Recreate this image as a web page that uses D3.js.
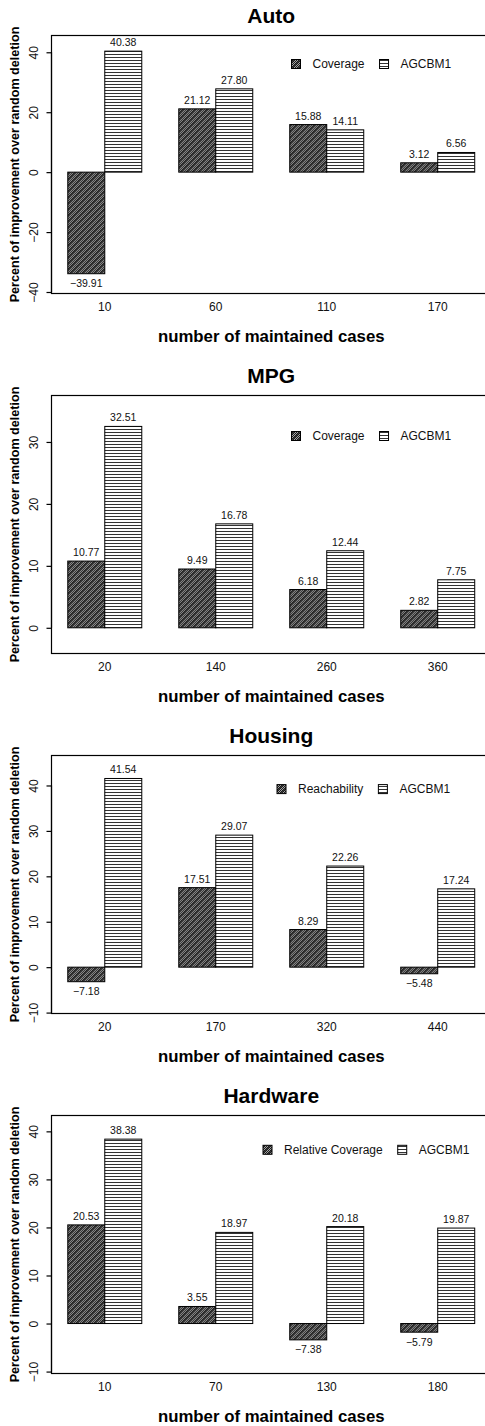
<!DOCTYPE html>
<html>
<head>
<meta charset="utf-8">
<script src="https://cdn.jsdelivr.net/npm/d3@7"></script>
<style>
  body { margin: 0; background: #fff; }
  svg { display: block; font-family: "Liberation Sans", Arial, sans-serif; }
</style>
</head>
<body>
<svg id="chart"></svg>
<script>
// data
const seriesNames = ["Coverage", "AGCBM1"];

const autoCases = ["10", "60", "110", "170"];
const autoCoverage = [-33.9, 21.12, 15.88, 3.12]; // bar heights as drawn
const autoCoverageLabels = ["\u221239.91", "21.12", "15.88", "3.12"];
const autoAgcbm = [40.38, 27.8, 14.11, 6.56];
const autoAgcbmLabels = ["40.38", "27.80", "14.11", "6.56"];

const mpgCases = ["20", "140", "260", "360"];
const mpgCoverage = [10.77, 9.49, 6.18, 2.82];
const mpgCoverageLabels = ["10.77", "9.49", "6.18", "2.82"];
const mpgAgcbm = [32.51, 16.78, 12.44, 7.75];
const mpgAgcbmLabels = ["32.51", "16.78", "12.44", "7.75"];

const housingCases = ["20", "170", "320", "440"];
const housingReach = [-3.2, 17.51, 8.29, -1.45];
const housingReachLabels = ["\u22127.18", "17.51", "8.29", "\u22125.48"];
const housingAgcbm = [41.54, 29.07, 22.26, 17.24];
const housingAgcbmLabels = ["41.54", "29.07", "22.26", "17.24"];

const hardwareCases = ["10", "70", "130", "180"];
const hardwareRel = [20.53, 3.55, -3.4, -1.8];
const hardwareRelLabels = ["20.53", "3.55", "\u22127.38", "\u22125.79"];
const hardwareAgcbm = [38.38, 18.97, 20.18, 19.87];
const hardwareAgcbmLabels = ["38.38", "18.97", "20.18", "19.87"];

const autoTicks = [-40, -20, 0, 20, 40];
const mpgTicks = [0, 10, 20, 30];
const housingTicks = [-10, 0, 10, 20, 30, 40];
const hardwareTicks = [-10, 0, 10, 20, 30, 40];

const panels = [
  { title: "Auto", cases: autoCases, first: autoCoverage, firstLabels: autoCoverageLabels,
    second: autoAgcbm, secondLabels: autoAgcbmLabels, legend: ["Coverage", "AGCBM1"],
    ticks: autoTicks, domain: [-40.5, 45.6], legendX: 291.5, legendY: 28.5 },
  { title: "MPG", cases: mpgCases, first: mpgCoverage, firstLabels: mpgCoverageLabels,
    second: mpgAgcbm, secondLabels: mpgAgcbmLabels, legend: ["Coverage", "AGCBM1"],
    ticks: mpgTicks, domain: [-4.15, 37.5], legendX: 291.5, legendY: 40.5 },
  { title: "Housing", cases: housingCases, first: housingReach, firstLabels: housingReachLabels,
    second: housingAgcbm, secondLabels: housingAgcbmLabels, legend: ["Reachability", "AGCBM1"],
    ticks: housingTicks, domain: [-10.2, 46.6], legendX: 277, legendY: 33.6 },
  { title: "Hardware", cases: hardwareCases, first: hardwareRel, firstLabels: hardwareRelLabels,
    second: hardwareAgcbm, secondLabels: hardwareAgcbmLabels, legend: ["Relative Coverage", "AGCBM1"],
    ticks: hardwareTicks, domain: [-10.4, 43.3], legendX: 263, legendY: 34.3 }
];

const width = 485, height = 1426;
const panelH = 360;
const box = { left: 51.5, right: 491, top: 35.5, height: 258 };

const svg = d3.select("#chart").attr("width", width).attr("height", height);

// fill patterns: dithered dark grey with faint "/" hatching, and horizontal lines
const defs = svg.append("defs");
const dark = defs.append("pattern")
  .attr("id", "dark").attr("patternUnits", "userSpaceOnUse")
  .attr("width", 6).attr("height", 6);
dark.append("rect").attr("width", 6).attr("height", 6).attr("fill", "#a4a4a4");
for (let i = 0; i < 6; i++) {
  for (let j = 0; j < 6; j++) {
    if ((i + j) % 2 === 0) {
      dark.append("rect").attr("x", i).attr("y", j).attr("width", 1).attr("height", 1).attr("fill", "#1a1a1a");
    }
  }
}
dark.append("path")
  .attr("d", "M-1,7 L7,-1 M-1,1 L1,-1 M5,7 L7,5")
  .attr("stroke", "#3c3c3c").attr("stroke-width", 1);

const hlines = defs.append("pattern")
  .attr("id", "hlines").attr("patternUnits", "userSpaceOnUse")
  .attr("width", 6).attr("height", 3);
hlines.append("rect").attr("width", 6).attr("height", 3).attr("fill", "#fff");
hlines.append("rect").attr("y", 0).attr("width", 6).attr("height", 1).attr("fill", "#333");

const fills = ["url(#dark)", "url(#hlines)"];

panels.forEach((p, pi) => {
  const top = box.top + pi * panelH;
  const bottom = top + box.height;
  const g = svg.append("g");

  const x0 = d3.scaleBand()
    .domain(p.cases)
    .range([box.left, box.right])
    .paddingInner(1 / 3)
    .paddingOuter(0.1467);
  const x1 = d3.scaleBand().domain(seriesNames).range([0, x0.bandwidth()]);
  const y = d3.scaleLinear().domain(p.domain).range([bottom, top]);

  const rows = p.cases.map((c, i) => ({
    c,
    vals: [
      { s: seriesNames[0], v: p.first[i], label: p.firstLabels[i], k: 0 },
      { s: seriesNames[1], v: p.second[i], label: p.secondLabels[i], k: 1 }
    ]
  }));

  const grp = g.selectAll(".grp").data(rows).enter().append("g")
    .attr("transform", (d) => `translate(${x0(d.c)},0)`);

  grp.selectAll("rect").data((d) => d.vals).enter().append("rect")
    .attr("x", (d) => x1(d.s))
    .attr("y", (d) => y(Math.max(0, d.v)))
    .attr("width", x1.bandwidth())
    .attr("height", (d) => Math.abs(y(d.v) - y(0)))
    .attr("fill", (d) => fills[d.k])
    .attr("stroke", "#000")
    .attr("stroke-width", 1);

  grp.selectAll("text").data((d) => d.vals).enter().append("text")
    .attr("x", (d) => x1(d.s) + x1.bandwidth() / 2)
    .attr("y", (d) => (d.v >= 0 ? y(d.v) - 9 : y(d.v) + 9.5))
    .attr("text-anchor", "middle")
    .attr("dominant-baseline", "central")
    .style("font-size", "10.5px")
    .attr("fill", "#111")
    .text((d) => d.label);

  // box
  g.append("rect")
    .attr("x", box.left).attr("y", top)
    .attr("width", box.right - box.left).attr("height", box.height)
    .attr("fill", "none").attr("stroke", "#000").attr("stroke-width", 1.2);

  // y axis
  const yAxis = d3.axisLeft(y).tickValues(p.ticks).tickSize(5).tickFormat((d) => d3.format("")(d).replace("-", "\u2212"));
  const ya = g.append("g").attr("transform", `translate(${box.left},0)`).call(yAxis);
  ya.select(".domain").attr("d", `M0,${y(p.ticks[0])}V${y(p.ticks[p.ticks.length - 1])}`).attr("stroke-width", 1.2);
  ya.selectAll(".tick line").attr("stroke-width", 1.2);
  ya.selectAll(".tick text")
    .attr("x", 0).attr("dy", null)
    .attr("transform", "translate(-17.5,0) rotate(-90)")
    .attr("text-anchor", "middle")
    .attr("dominant-baseline", "central")
    .style("font-size", "12px")
    .style("font-family", "'Liberation Sans', Arial, sans-serif")
    .attr("fill", "#111");

  // x category labels
  g.selectAll(".xl").data(p.cases).enter().append("text")
    .attr("x", (d) => x0(d) + x0.bandwidth() / 2)
    .attr("y", bottom + 13.7)
    .attr("text-anchor", "middle")
    .attr("dominant-baseline", "central")
    .style("font-size", "12px")
    .attr("fill", "#111")
    .text((d) => d);

  // titles
  const cx = (box.left + box.right) / 2;
  g.append("text")
    .attr("x", cx).attr("y", top - 12.4)
    .attr("text-anchor", "middle")
    .style("font-size", "21px").style("font-weight", "bold")
    .text(p.title);

  g.append("text")
    .attr("x", cx).attr("y", bottom + 48.4)
    .attr("text-anchor", "middle")
    .style("font-size", "16.8px").style("font-weight", "bold")
    .text("number of maintained cases");

  g.append("text")
    .attr("transform", `translate(15,${(top + bottom) / 2}) rotate(-90)`)
    .attr("text-anchor", "middle")
    .attr("dominant-baseline", "central")
    .style("font-size", "12.6px").style("font-weight", "bold")
    .text("Percent of improvement over random deletion");

  // legend
  let lx = p.legendX;
  const ly = top + p.legendY;
  p.legend.forEach((name, k) => {
    g.append("rect")
      .attr("x", lx).attr("y", ly - 4.5)
      .attr("width", 9).attr("height", 9)
      .attr("fill", fills[k]).attr("stroke", "#000").attr("stroke-width", 1);
    const t = g.append("text")
      .attr("x", lx + 21).attr("y", ly)
      .attr("dominant-baseline", "central")
      .style("font-size", "12px")
      .attr("fill", "#111")
      .text(name);
    lx = lx + 21 + t.node().getComputedTextLength() + 15;
  });
});
</script>
</body>
</html>
